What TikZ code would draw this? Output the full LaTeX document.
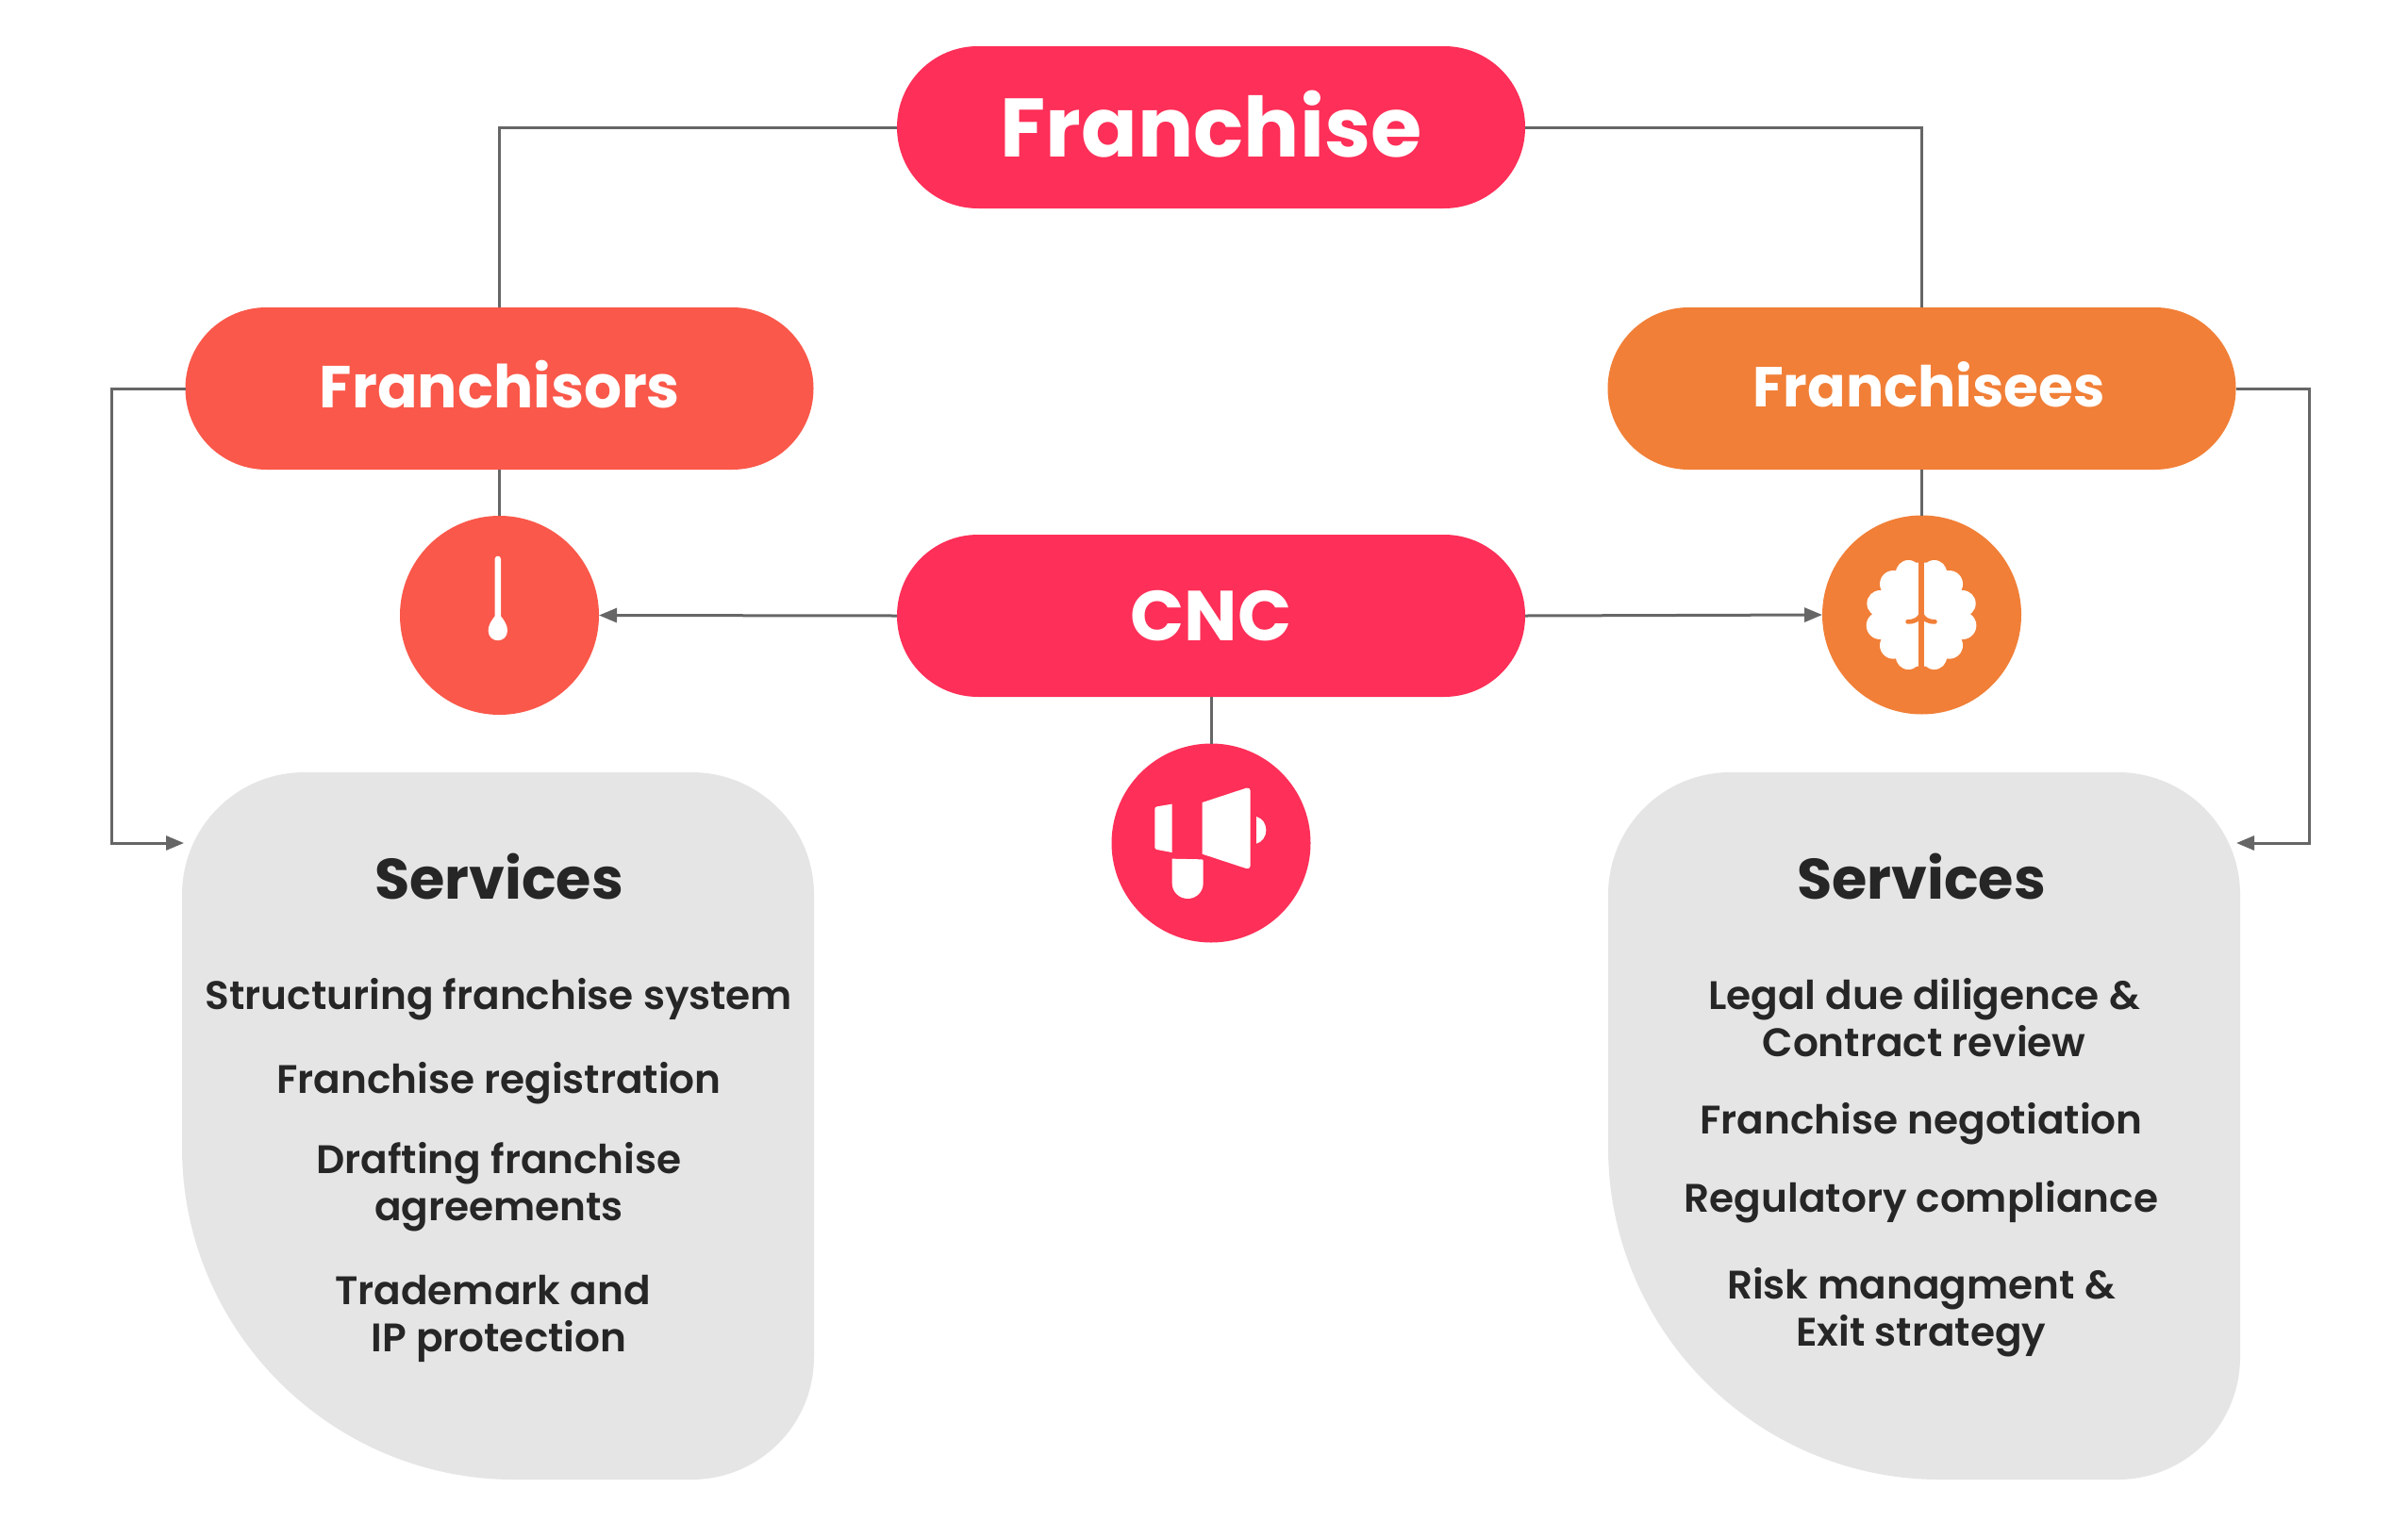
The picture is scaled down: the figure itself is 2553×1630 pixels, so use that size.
\documentclass[tikz,border=0pt]{standalone}
\usepackage{fontspec}
\setmainfont{Poppins}[UprightFont=* SemiBold,BoldFont=* Bold]
\usetikzlibrary{arrows.meta}
\definecolor{crim}{HTML}{FE2F58}
\definecolor{coral}{HTML}{FA584A}
\definecolor{orng}{HTML}{F17F37}
\definecolor{panel}{HTML}{E5E5E5}
\definecolor{wire}{HTML}{666666}
\definecolor{ink}{HTML}{262626}
\tikzset{
  pill/.style={minimum width=666pt,minimum height=172pt,inner sep=0pt,outer sep=0pt,rounded corners=85.9pt,text=white},
  bigfont/.style={font=\bfseries\fontsize{88}{88}\selectfont},
  midfont/.style={font=\bfseries\fontsize{62.8}{62.8}\selectfont},
  feefont/.style={font=\bfseries\fontsize{59.8}{59.8}\selectfont},
  cncfont/.style={font=\bfseries\fontsize{75}{75}\selectfont},
  disc/.style={circle,minimum size=211pt,inner sep=0pt,outer sep=0pt},
  line/.style={draw=wire,line width=3pt},
  arrowline/.style={line,-{Triangle[length=19pt,width=15pt]}},
  head/.style={font=\bfseries\fontsize{60.5}{60.5}\selectfont,text=ink},
  item/.style={font=\fontsize{42.2}{50}\selectfont,text=ink,align=center,inner sep=0pt},
  tlabel/.style={text=white,inner sep=0pt},
}
\begin{document}
\begin{tikzpicture}[x=1pt,y=-1pt]
\useasboundingbox (0,0) rectangle (2553,1630);
\fill[white] (0,0) rectangle (2553,1630);

% panels
\fill[panel] (193,949) .. controls (193,877) and (251,819) .. (323,819) -- (733,819)
  .. controls (805,819) and (863,877) .. (863,949) -- (863,1439)
  .. controls (863,1511) and (805,1569) .. (733,1569) -- (545,1569)
  .. controls (351,1569) and (193,1411) .. (193,1217) -- cycle;
\fill[panel] (1705,949) .. controls (1705,877) and (1763,819) .. (1835,819) -- (2245,819)
  .. controls (2317,819) and (2375,877) .. (2375,949) -- (2375,1439)
  .. controls (2375,1511) and (2317,1569) .. (2245,1569) -- (2057,1569)
  .. controls (1863,1569) and (1705,1411) .. (1705,1217) -- cycle;

% main nodes
\node[pill,fill=crim] (fr) at (1284,135) {};
\node[pill,fill=coral] (fors) at (529.5,412) {};
\node[pill,fill=orng] (fees) at (2037.5,412) {};
\node[pill,fill=crim] (cnc) at (1284,653) {};
\node[tlabel,bigfont] (frt) at (1284,132) {Franchise};
\node[tlabel,midfont] (forst) at (530,408) {Franchisors};
\node[tlabel,feefont] (feest) at (2045,408) {Franchisees};
\node[tlabel,cncfont] (cnct) at (1284,653) {CNC};
\node[disc,fill=coral] (dl) at (529.5,652.5) {};
\node[disc,fill=orng] (dr) at (2037.5,652) {};
\node[disc,fill=crim] (dm) at (1284,894) {};

\coordinate (inl) at (195,894);
\coordinate (inr) at (2371,894);
\coordinate (kll) at (118,412);
\coordinate (kl2) at (118,894);
\coordinate (krr) at (2448,412);
\coordinate (kr2) at (2448,894);

% connectors
\draw[line] (fr.west) -| (fors.north);
\draw[line] (fr.east) -| (fees.north);
\draw[line] (fors.south) -- (dl.north);
\draw[line] (fees.south) -- (dr.north);
\draw[line] (cnc.south) -- (dm.north);
\draw[arrowline] (cnc.west) -- (dl.east);
\draw[arrowline] (cnc.east) -- (dr.west);
\draw[arrowline] (fors.west) -- (kll) -- (kl2) -- (inl);
\draw[arrowline] (fees.east) -- (krr) -- (kr2) -- (inr);

% gauge icon
\begin{scope}[shift={(400,520)},scale=1/3]
\fill[white] (374,218) .. controls (374,206) and (393,206) .. (393,218) -- (393,400)
  .. controls (405,415) and (414,430) .. (414,446) .. controls (414,488) and (353,488) .. (353,446)
  .. controls (353,430) and (362,415) .. (374,400) -- cycle;
\end{scope}

% megaphone icon
\begin{scope}[shift={(1160,770)},scale=1/3]
\fill[white] (200,256) -- (248,248) -- (248,402) -- (200,393) .. controls (195,392) and (193,389) .. (193,385)
  -- (193,264) .. controls (193,260) and (195,257) .. (200,256) -- cycle;
\fill[white] (344,243) -- (484,197) .. controls (491,195) and (497,199) .. (497,205) -- (497,445)
  .. controls (497,451) and (491,455) .. (484,453) -- (344,407) -- cycle;
\fill[white] (516,288) .. controls (535,293) and (547,311) .. (547,331)
  .. controls (547,351) and (535,369) .. (516,374) -- cycle;
\fill[white] (248,422) -- (343,424) .. controls (346,424) and (347,425) .. (347,428) -- (347,500)
  .. controls (347,527) and (325,549) .. (298,549) .. controls (270,549) and (248,527) .. (248,500) -- cycle;
\end{scope}

% brain icon
\begin{scope}[shift={(1920,530)},scale=1/3]
\foreach \a/\b/\r in {310/232/40,262/268/43,220/330/42,220/400/44,262/463/43,310/500/40,
                      392/232/40,440/268/43,482/330/42,482/400/44,440/463/43,392/500/40}
  \fill[white] (\a,\b) circle[radius=\r pt];
\fill[white] (300,200) -- (402,200) -- (462,250) -- (492,330) -- (492,400) -- (472,460) -- (402,530)
  -- (300,530) -- (230,460) -- (210,400) -- (210,330) -- (240,250) -- cycle;
\fill[orng] (343,185) rectangle (360,545);
\draw[orng,line width=4.8pt,line cap=round] (308,388) .. controls (330,388) and (343,380) .. (351,364)
  .. controls (359,380) and (372,388) .. (394,388);
\end{scope}

% service lists
\node[head] (sl) at (529,929) {Services};
\node[item] (l1) at (529,1060) {Structuring franchise system};
\node[item] (l2) at (529,1149) {Franchise registration};
\node[item] (l3) at (529,1259) {Drafting franchise\\agreements};
\node[item] (l4) at (529,1398) {Trademark and\hspace*{13pt}\\IP protection};
\node[head] (sr) at (2037,929) {Services};
\node[item] (r1) at (2040,1079) {Legal due diligence \&\\Contract review};
\node[item] (r2) at (2037,1192) {Franchise negotiation};
\node[item] (r3) at (2037,1275) {Regulatory compliance};
\node[item] (r4) at (2037,1392) {Risk managment \&\\Exit strategy};
\end{tikzpicture}
\end{document}
